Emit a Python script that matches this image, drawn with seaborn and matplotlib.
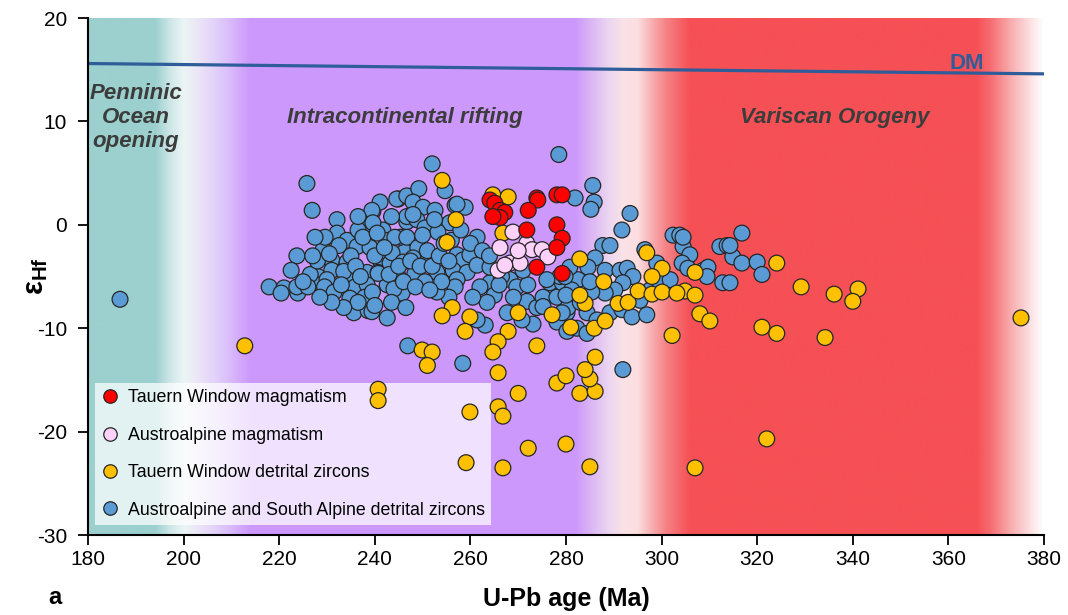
import numpy as np
import pandas as pd
import matplotlib
matplotlib.use('Agg')
import matplotlib.pyplot as plt
import seaborn as sns

sns.set_style('ticks')
plt.rcParams['font.family'] = ['Liberation Sans', 'DejaVu Sans']
plt.rcParams['mathtext.fontset'] = 'custom'
plt.rcParams['mathtext.rm'] = 'Liberation Sans'
plt.rcParams['mathtext.bf'] = 'Liberation Sans:bold'
plt.rcParams['axes.unicode_minus'] = False
plt.rcParams['text.color'] = 'black'
plt.rcParams['axes.labelcolor'] = 'black'

# (U-Pb age in Ma, eHf)
tw_magmatism = [
    (264.1, 2.4), (265.1, 2.1), (266.2, 1.4), (267.2, 1.2), (266.2, 0.7), (264.7, 0.8),
    (273.9, 2.6), (274.1, 2.4), (272.1, 1.4), (271.8, -0.5), (278.1, 2.9), (279.2, 2.9),
    (278.1, 0.0), (279.2, -1.3), (278.1, -2.2), (273.9, -4.1), (279.2, -4.7),
]

aa_magmatism = [
    (268.9, -0.7), (266.2, -2.2), (265.8, -4.4), (268.3, -3.7), (270.4, -3.7), (271.8, -1.8),
    (272.9, -2.4), (275.0, -2.4), (276.2, -3.1), (267.2, -3.9), (270.0, -2.5),
]

tw_detrital = [
    (212.8, -11.7), (240.7, -15.9), (240.7, -17.0), (254.1, 4.3), (257.0, 0.5), (255.1, -1.7),
    (264.7, 2.9), (267.9, 2.7), (266.8, -0.8), (256.2, -8.0), (254.1, -8.8), (259.9, -8.9),
    (258.9, -10.3), (270.0, -8.5), (277.1, -8.7), (267.9, -10.3), (265.8, -11.3), (264.7, -12.3),
    (273.9, -11.7), (249.9, -12.1), (252.0, -12.3), (251.0, -13.6), (265.8, -14.3), (270.0, -16.3),
    (265.8, -17.6), (266.8, -18.5), (259.9, -18.1), (272.1, -21.6), (280.0, -21.2), (259.1, -23.0),
    (266.8, -23.5), (285.0, -23.4), (278.1, -15.3), (280.0, -14.6), (282.9, -16.3), (286.1, -16.1),
    (285.0, -14.9), (284.0, -14.0), (286.1, -12.8), (281.0, -9.9), (285.9, -10.0), (288.2, -9.3),
    (284.0, -7.6), (290.9, -7.6), (293.0, -7.5), (282.9, -3.3), (287.9, -5.5), (282.9, -6.8),
    (295.1, -6.4), (298.0, -6.7), (300.1, -6.5), (296.9, -2.7), (300.1, -4.2), (298.0, -5.0),
    (302.2, -10.7), (308.0, -8.6), (310.1, -9.3), (307.0, -4.6), (304.9, -6.4), (303.2, -6.6),
    (307.0, -6.8), (324.1, -3.7), (329.2, -6.0), (336.1, -6.7), (341.1, -6.2), (340.0, -7.4),
    (321.0, -9.9), (324.1, -10.5), (334.2, -10.9), (375.2, -9.0), (322.0, -20.7), (307.0, -23.5),
]

aa_sa_detrital = [
    (186.7, -7.2), (225.8, 4.0), (226.9, 1.4), (217.9, -6.0), (221.0, -6.1), (220.4, -6.6),
    (223.9, -6.6), (223.7, -6.0), (223.7, -3.0), (222.5, -4.4), (228.1, -5.0), (227.1, -5.6),
    (229.2, -2.4), (231.0, -3.4), (232.1, 0.5), (232.1, -0.8), (234.2, -1.5), (236.3, -2.1),
    (239.0, -2.2), (241.1, -3.4), (238.6, 0.0), (239.6, 1.3), (241.1, 2.2), (244.9, 2.5),
    (241.7, -0.5), (234.2, -3.6), (231.0, -4.4), (234.4, -5.1), (235.9, -6.0), (238.4, -4.6),
    (240.7, -4.6), (243.2, -3.7), (245.7, -3.4), (244.9, -5.0), (242.6, -5.8), (238.4, -5.8),
    (234.8, -7.1), (237.9, -7.0), (235.6, -8.5), (238.6, -8.3), (242.6, -9.0), (245.7, -6.6),
    (246.3, -2.6), (245.3, -1.2), (242.8, -1.5), (246.7, 0.3), (244.6, 2.5), (246.7, 2.8),
    (229.6, -1.2), (230.0, -5.3),
    (278.5, 6.8), (252.0, 5.9), (254.7, 3.3), (249.2, 3.5), (248.0, 2.2), (250.1, 1.7),
    (252.6, 1.4), (256.8, 1.9), (258.9, 1.7), (257.2, 2.0), (239.4, 1.4), (261.4, -1.2),
    (255.7, 0.2), (246.7, 0.8), (248.8, 0.5), (252.0, -0.2), (250.5, -0.3), (253.2, -0.7),
    (239.6, 0.2), (244.2, -1.2), (246.7, -1.2), (249.0, -2.2), (243.6, -2.7), (245.9, -3.6),
    (248.0, -3.2), (250.9, -3.6), (253.0, -4.6), (240.7, -4.7), (248.4, -4.7), (250.5, -5.5),
    (257.2, -2.9), (258.4, -3.4), (259.9, -2.9), (256.4, -4.4), (259.3, -4.6), (261.4, -3.9),
    (257.2, -5.3), (256.8, -6.0), (264.1, -5.6), (264.1, -4.1), (239.4, -8.4), (263.1, -9.7),
    (268.3, -5.3), (269.7, -6.0), (267.7, -8.5), (271.8, -7.4), (273.9, -8.0), (273.1, -9.6),
    (270.8, -9.2), (275.2, -7.0), (276.6, -5.6), (278.1, -7.0), (279.2, -5.6), (278.1, -9.4),
    (280.2, -8.5), (280.2, -10.3), (246.9, -11.7), (258.4, -13.4), (261.4, -9.2), (291.9, -14.0),
    (285.6, 3.8), (281.9, 2.6), (285.9, 2.2), (285.2, 1.5), (293.4, 1.1), (291.7, -0.5),
    (287.7, -2.0), (289.2, -2.0), (286.1, -3.2), (284.6, -4.1), (288.2, -4.4), (291.3, -4.4),
    (292.8, -4.2), (294.0, -5.0), (291.9, -5.6), (290.2, -6.3), (288.2, -6.6), (285.4, -6.5),
    (282.5, -5.3), (280.8, -4.1), (278.7, -5.0), (280.4, -8.0), (284.4, -8.5), (286.5, -9.2),
    (289.2, -8.5), (291.7, -8.2), (293.8, -8.9), (296.9, -8.7), (295.5, -7.3), (297.6, -6.3),
    (299.7, -5.6), (301.8, -5.3), (296.5, -2.4), (299.0, -3.7), (302.4, -1.0), (303.8, -1.0),
    (304.5, -2.1), (305.9, -2.9), (304.3, -3.7), (305.5, -4.2), (308.7, -4.4), (309.7, -4.1),
    (309.5, -5.0), (312.8, -5.6), (312.2, -2.1), (313.7, -2.0), (314.9, -3.1), (316.8, -3.7),
    (316.8, -0.8), (320.0, -3.6), (321.0, -4.8), (314.3, -2.0), (314.3, -5.6), (279.2, -8.5),
    (282.3, -10.0), (284.4, -10.5), (304.5, -1.2),
    (276.0, -5.3), (275.2, -7.9), (281.2, -6.3), (279.8, -5.0), (285.0, -5.5), (283.0, -7.5),
    (280.0, -6.8), (262.0, -6.0), (265.0, -6.8), (266.5, -5.0), (269.0, -7.0), (272.0, -5.8),
    (271.0, -4.4), (263.5, -7.5), (260.5, -7.0), (255.5, -7.0), (253.0, -6.5),
    (226.5, -4.8), (228.0, -3.5), (229.5, -6.0), (231.5, -6.5), (232.5, -2.0), (233.5, -4.5),
    (235.0, -3.0), (236.0, -4.0), (236.5, -0.5), (237.5, -1.2), (237.0, -5.0), (239.5, -6.5),
    (240.0, -3.0), (240.5, -0.8), (242.0, -2.2), (243.0, -4.8), (244.0, -6.2), (245.0, -4.0),
    (246.0, -5.5), (247.5, -3.5), (248.5, -6.0), (249.5, -4.0), (250.0, -1.0), (251.0, -2.5),
    (252.0, -4.0), (253.5, -3.0), (254.5, -1.8), (255.5, -3.5), (254.0, -5.5), (251.5, -6.3),
    (233.0, -5.8), (230.5, -2.8), (227.5, -1.2), (236.5, 0.8), (243.5, 0.8), (248.0, 1.0),
    (252.5, 0.5), (256.0, -1.5), (258.0, -0.5), (260.0, -1.8), (262.5, -2.5), (264.0, -3.0),
    (266.0, -5.8), (243.5, -7.5), (240.0, -7.8), (236.5, -7.5), (246.5, -8.0), (233.5, -8.0),
    (231.0, -7.5), (228.5, -7.0), (226.0, -6.0), (225.0, -5.5), (227.0, -3.0),
]

dm_age = [180, 380]
dm_ehf = [15.6, 14.6]

legend_order = [
    'Tauern Window magmatism',
    'Austroalpine magmatism',
    'Tauern Window detrital zircons',
    'Austroalpine and South Alpine detrital zircons',
]
palette = {
    'Tauern Window magmatism': '#FF0000',
    'Austroalpine magmatism': '#FCD2FA',
    'Tauern Window detrital zircons': '#FFC000',
    'Austroalpine and South Alpine detrital zircons': '#5B9BD5',
}

# drawing order: blue first, red on top
rows = []
for name, pts in [(legend_order[3], aa_sa_detrital), (legend_order[2], tw_detrital),
                  (legend_order[1], aa_magmatism), (legend_order[0], tw_magmatism)]:
    for a, e in pts:
        rows.append((a, e, name))
df = pd.DataFrame(rows, columns=['age', 'ehf', 'group'])

# background colour bands (age, rgb)
bg_x = [180, 194, 197, 200, 203, 208, 214, 282, 285, 289, 292, 295, 298, 301, 306,
        366, 369, 373, 377, 380]
bg_rgb = [(155, 208, 207), (155, 208, 207), (205, 230, 230), (235, 245, 245), (236, 230, 248),
          (222, 200, 250), (205, 152, 252), (205, 152, 252), (218, 180, 245), (236, 214, 240),
          (250, 226, 230), (252, 222, 224), (248, 175, 178), (246, 130, 133), (245, 80, 85),
          (245, 80, 85), (246, 110, 115), (248, 170, 172), (252, 222, 224), (255, 255, 255)]

fig = plt.figure(figsize=(10.68, 6.15), dpi=100)
ax = fig.add_axes([0.0824, 0.130, 0.8951, 0.8407])

xs = np.linspace(180, 380, 1001)
bg = np.array(bg_rgb, dtype=float)
img = np.stack([np.interp(xs, bg_x, bg[:, i]) for i in range(3)], axis=-1)[None, :, :] / 255.0
ax.imshow(img, extent=[180, 380, -30, 20], aspect='auto', zorder=0, interpolation='bilinear')

ax.plot(dm_age, dm_ehf, color='#2F5D99', lw=2.3, zorder=1)

sns.scatterplot(data=df, x='age', y='ehf', hue='group', hue_order=legend_order,
                palette=palette, s=130, edgecolor='#262626', linewidth=0.9,
                ax=ax, zorder=3)

ax.set_xlim(180, 380)
ax.set_ylim(-30, 20)
ax.set_xticks(range(180, 381, 20))
ax.set_yticks(range(-30, 21, 10))
sns.despine(ax=ax)
for sp in ['left', 'bottom']:
    ax.spines[sp].set_linewidth(1.5)
    ax.spines[sp].set_color('black')
ax.tick_params(axis='both', direction='out', length=7, width=1.3, labelsize=15,
               colors='black', labelcolor='black')
ax.tick_params(axis='x', pad=4)
ax.tick_params(axis='y', pad=8)

ax.set_xlabel('U-Pb age (Ma)', fontsize=18, fontweight='bold', labelpad=13)
ax.set_ylabel('ε$_{\\mathbf{Hf}}$', fontsize=21, fontweight='bold')
ax.yaxis.set_label_coords(-0.040, 0.50)

txt_kw = dict(fontsize=16, fontweight='bold', style='italic', color='#3C3C3C',
              ha='center', va='center', zorder=2)
ax.text(190.0, 10.4, 'Penninic\nOcean\nopening', linespacing=1.2, **txt_kw)
ax.text(246.3, 10.4, 'Intracontinental rifting', **txt_kw)
ax.text(336.3, 10.4, 'Variscan Orogeny', **txt_kw)
ax.text(363.9, 15.6, 'DM', fontsize=16, fontweight='bold', color='#2F5D99',
        ha='center', va='center', zorder=2)

handles, labels = ax.get_legend_handles_labels()
leg = ax.legend(handles, labels, loc='lower left', bbox_to_anchor=(0.0073, 0.020),
                borderaxespad=0, frameon=True, facecolor='white', framealpha=0.72,
                edgecolor='none', fancybox=False, fontsize=12.75, labelspacing=1.15,
                handlelength=1.0, handletextpad=0.5, markerscale=0.85, borderpad=0.35,
                labelcolor='black')
leg.get_frame().set_linewidth(0)
leg.set_zorder(2.5)

fig.text(55 / 1068, 1 - 597 / 615, 'a', fontsize=17, fontweight='bold', ha='center', va='center')

fig.savefig('out.png', dpi=100)
